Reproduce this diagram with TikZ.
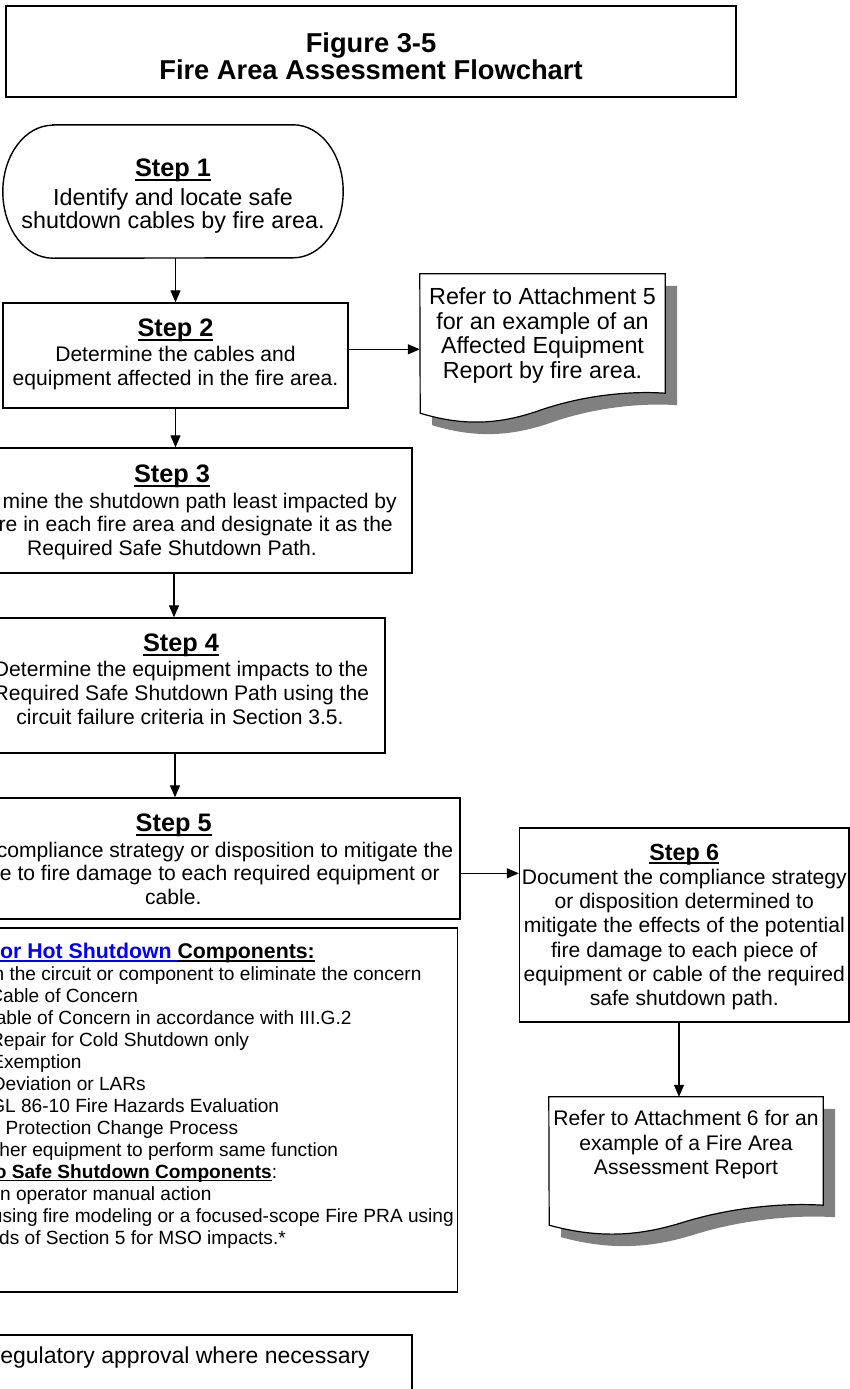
\documentclass[tikz,border=0pt]{standalone}
\usepackage{fontspec}
\setmainfont{Liberation Sans}
\usetikzlibrary{arrows.meta,calc,backgrounds}

\definecolor{linkblue}{RGB}{0,0,255}
\definecolor{shadowgray}{RGB}{128,128,128}

% underline sitting just below the baseline
\newcommand{\stepul}[1]{\setbox0\hbox{#1}\rlap{\rule[-0.18em]{\wd0}{0.08em}}\box0}
\newcommand{\headfont}{\fontsize{25.3}{27}\selectfont\bfseries}
\newcommand{\bodyfont}{\fontsize{21.1}{23.7}\selectfont}
\newcommand{\optfont}{\fontsize{19.1}{22}\selectfont}
% document shape with drop shadow round a node (#2 = width)
\newcommand{\docoutline}[2]{%
  \draw[line width=1.2pt, fill=white,
    preaction={fill=shadowgray, transform canvas={shift={(12pt,-12pt)}}}]
    (#1.north west) -- (#1.north east) -- (#1.south east)
    .. controls +(-0.18*#2,3) and +(0.14*#2,12) .. ++(-0.51*#2,-17)
    .. controls +(-0.14*#2,-12) and +(0.2*#2,-15) .. ++(-0.49*#2,-3)
    -- cycle;}

\begin{document}
\begin{tikzpicture}[x=1pt, y=1pt,
  stepbox/.style={draw, line width=1.4pt, inner sep=0pt, align=center},
  docbox/.style={inner sep=0pt, align=center},
  frag/.style={inner sep=0pt, anchor=base east},
  midline/.style={inner sep=0pt, anchor=base},
  flowarrow/.style={line width=1.3pt, -{Triangle[length=12pt,width=10pt]}},
]
\useasboundingbox (0,0) rectangle (850,-1389);
\clip (0,0) rectangle (850,-1389);

% title
\node[stepbox, line width=2pt, minimum width=730pt, minimum height=91pt,
  font=\fontsize{27.3}{26.7}\selectfont\bfseries] (title) at (371,-51.5)
  {\rule{0pt}{29.1pt}Figure 3-5\\Fire Area Assessment Flowchart};

% step 1 (terminator)
\node[docbox, minimum width=340pt, minimum height=133pt,
  font=\fontsize{23.3}{23.3}\selectfont] (s1) at (173,-191.5)
  {\rule{0pt}{26.3pt}{\headfont\stepul{Step 1}}\\[5.7pt]Identify and locate safe\\shutdown cables by fire area.};
\draw[line width=1.4pt] ([xshift=50pt]s1.north west) -- ([xshift=-50pt]s1.north east)
  arc[start angle=90, end angle=-90, x radius=50, y radius=66.5]
  -- ([xshift=50pt]s1.south west)
  arc[start angle=-90, end angle=-270, x radius=50, y radius=66.5] -- cycle;

% step 2
\node[stepbox, minimum width=345pt, minimum height=105pt, text depth=7.4pt,
  font=\fontsize{21.1}{23.4}\selectfont] (s2) at (175.5,-355.5)
  {{\headfont\stepul{Step 2}}\\[2.2pt]Determine the cables and\\equipment affected in the fire area.};

% report of attachment 5
\node[docbox, minimum width=245pt, minimum height=119pt,
  font=\fontsize{23.3}{24.4}\selectfont] (rep5) at (542.5,-333.5)
  {\rule{0pt}{21pt}Refer to Attachment 5\\for an example of an\\Affected Equipment\\Report by fire area.};

% step 3
\node[stepbox, minimum width=476pt, minimum height=125pt] (s3) at (174,-510.5) {};
\node[midline, font=\headfont] (s3h) at (172,-482) {\stepul{Step 3}};
\node[frag, font=\bodyfont] (s3a) at (397,-508) {mine the shutdown path least impacted by};
\node[frag, font=\bodyfont] (s3b) at (393,-531.5) {re in each fire area and designate it as the};
\node[midline, font=\bodyfont] (s3c) at (172,-555.5) {Required Safe Shutdown Path.};

% step 4
\node[stepbox, minimum width=420pt, minimum height=135pt] (s4) at (175,-685.5) {};
\node[midline, font=\headfont] (s4h) at (181,-651) {\stepul{Step 4}};
\node[frag, font=\bodyfont] (s4a) at (368.3,-676.8) {Determine the equipment impacts to the};
\node[frag, font=\bodyfont] (s4b) at (369.3,-700.2) {Required Safe Shutdown Path using the};
\node[midline, font=\bodyfont] (s4c) at (180,-724.2) {circuit failure criteria in Section 3.5.};

% step 5
\node[stepbox, minimum width=572pt, minimum height=121pt] (s5) at (174,-858.5) {};
\node[midline, font=\headfont] (s5h) at (173.7,-831) {\stepul{Step 5}};
\node[frag, font=\bodyfont] (s5a) at (453.3,-857.5) {compliance strategy or disposition to mitigate the};
\node[frag, font=\bodyfont] (s5b) at (440,-880.8) {e to fire damage to each required equipment or};
\node[midline, font=\bodyfont] (s5c) at (173.3,-904.5) {cable.};

% options for the components
\node[stepbox, minimum width=578pt, minimum height=364pt] (opts) at (168.7,-1110) {};
\node[frag, font=\fontsize{21.3}{22}\selectfont\bfseries] (optsh) at (315,-958)
  {{\color{linkblue}\stepul{or Hot Shutdown }}\stepul{Components:}};
\foreach \k/\rx/\txt in {
  1/421.7/{n the circuit or component to eliminate the concern},
  2/138.3/{Cable of Concern},
  3/351.7/{able of Concern in accordance with III.G.2},
  4/249.3/{Repair for Cold Shutdown only},
  5/81.7/{Exemption},
  6/146/{Deviation or LARs},
  7/279.3/{GL 86-10 Fire Hazards Evaluation},
  8/238.3/{e Protection Change Process},
  9/338.3/{her equipment to perform same function},
  11/211.7/{n operator manual action},
  12/454/{using fire modeling or a focused-scope Fire PRA using},
  13/286/{ds of Section 5 for MSO impacts.*}}
  \node[frag, font=\optfont] (opt\k) at (\rx,{-980-22*(\k-1)}) {\txt};
\node[frag, font=\optfont] (opt10) at (277.3,-1178)
  {{\bfseries\stepul{o Safe Shutdown Components}}:};

% regulatory approval
\node[stepbox, minimum width=512pt, minimum height=95pt] (reg) at (156,-1382.5) {};
\node[frag, font=\fontsize{23}{24}\selectfont] (rega) at (370,-1363) {egulatory approval where necessary};

% step 6
\node[stepbox, minimum width=329.5pt, minimum height=194pt,
  font=\fontsize{21.1}{24.3}\selectfont] (s6) at (684.25,-925)
  {\rule{0pt}{20.3pt}{\fontsize{23.3}{24}\selectfont\bfseries\stepul{Step 6}}\\Document the compliance strategy\\or disposition determined to\\mitigate the effects of the potential\\fire damage to each piece of\\equipment or cable of the required\\safe shutdown path.};

% report of attachment 6
\node[docbox, minimum width=274pt, minimum height=108pt, text depth=16.4pt,
  font=\fontsize{21.1}{24.5}\selectfont] (rep6) at (686,-1151)
  {Refer to Attachment 6 for an\\example of a Fire Area\\Assessment Report};

% connectors
\coordinate (s2r) at ([yshift=6.2pt]s2.east);
\coordinate (s5r) at ([yshift=-14.8pt]s5.east);
\coordinate (s6b) at ([xshift=-5.25pt]s6.south);
\draw[flowarrow] (s2.north |- s1.south) -- (s2.north);
\draw[flowarrow] (s2r) -- (s2r -| rep5.west);
\draw[flowarrow] (s2.south) -- (s2.south |- s3.north);
\draw[flowarrow] (s3.south) -- (s3.south |- s4.north);
\draw[flowarrow] (s4.south) -- (s4.south |- s5.north);
\draw[flowarrow] (s5r) -- (s5r -| s6.west);
\draw[flowarrow] (s6b) -- (s6b |- rep6.north);

\begin{scope}[on background layer]
  \fill[white] (0,0) rectangle (850,-1389);
  \docoutline{rep5}{245}
  \docoutline{rep6}{274}
\end{scope}
\end{tikzpicture}
\end{document}
